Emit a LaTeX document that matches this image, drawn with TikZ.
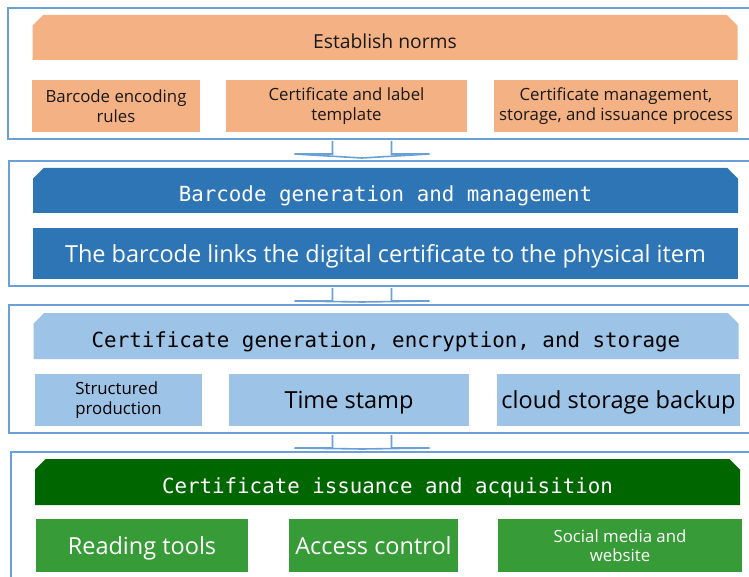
\documentclass[tikz,border=0pt]{standalone}
\usepackage{fontspec}
\setmainfont{Open Sans}
\setmonofont{DejaVu Sans Mono}
\usepackage{xcolor}
\usepackage{tikz}
\usetikzlibrary{positioning,shapes.misc,calc}

\definecolor{frameblue}{HTML}{6A9FD8}
\definecolor{normorange}{HTML}{F4B183}
\definecolor{codeblue}{HTML}{2E75B6}
\definecolor{certblue}{HTML}{9DC3E6}
\definecolor{issuegreen}{HTML}{006600}
\definecolor{toolgreen}{HTML}{379B37}

\begin{document}
\begin{tikzpicture}[
  x=1pt, y=-1pt,
  panel/.style={draw=frameblue, line width=2pt, inner sep=0pt, minimum width=752pt},
  head/.style={chamfered rectangle, chamfered rectangle corners={north west,north east},
               chamfered rectangle xsep=7pt, inner sep=0pt, minimum height=45pt,
               minimum width=705pt, text height=24pt, text depth=1pt},
  part/.style={inner sep=0pt, minimum height=52pt, align=center},
  flow/.style={draw=frameblue, line width=1.6pt, fill=white, line join=miter},
  mono/.style={font=\ttfamily\fontsize{20.8}{24}\selectfont},
  small/.style={font=\fontsize{16.8}{20}\selectfont},
  tiny/.style={font=\fontsize{16.8}{19.5}\selectfont},
  big/.style={font=\fontsize{23.5}{27}\selectfont, text height=19pt, text depth=1.5pt}
]
\clip (0,0) rectangle (749,577);

\node[panel, minimum height=131pt] (p1) at (384,73.5) {};
\node[panel, minimum height=125pt] (p2) at (384.5,223.5) {};
\node[panel, minimum height=128pt] (p3) at (384.5,369) {};
\node[panel, minimum height=148pt, minimum width=749pt] (p4) at (385.5,526) {};

\node[head, fill=normorange, text=black!90, font=\fontsize{19.3}{23}\selectfont] (norms) at (385,37.5) {Establish norms};
\node[part, small, fill=normorange, text=black!90, minimum width=168pt] (rules) at (116,106) {Barcode encoding\\rules};
\node[part, small, fill=normorange, text=black!90, minimum width=241pt] (tmpl) at (346.5,106) {Certificate and label\\template};
\node[part, small, fill=normorange, text=black!90, minimum width=244pt] (process) at (616,106) {Certificate management,\\storage, and issuance process};

\node[head, mono, fill=codeblue, text=white] (barcode) at (385.5,190.5) {Barcode generation and management};
\node[part, big, fill=codeblue, text=white, minimum width=705pt, minimum height=51pt] (link) at (385.5,253.5) {The barcode links the digital certificate to the physical item};

\node[head, mono, fill=certblue, text=black, minimum height=46pt] (gen) at (386,336) {Certificate generation, encryption, and storage};
\node[part, tiny, fill=certblue, text=black, minimum width=167pt, align=left] (struct) at (118.5,400) {Structured\\production};
\node[part, big, fill=certblue, text=black, minimum width=240pt] (stamp) at (349,400) {Time stamp};
\node[part, big, fill=certblue, text=black, minimum width=243pt] (cloud) at (618.5,400) {cloud storage backup};

\node[head, mono, fill=issuegreen, text=white, minimum height=46pt] (issue) at (387.5,482) {Certificate issuance and acquisition};
\node[part, big, fill=toolgreen, text=white, minimum width=212pt, minimum height=53pt] (read) at (142,545.5) {Reading tools};
\node[part, big, fill=toolgreen, text=white, minimum width=169pt, minimum height=53pt] (access) at (373.5,545.5) {Access control};
\node[part, tiny, fill=toolgreen, text=white, minimum width=244pt, minimum height=53pt] (social) at (620,545.5) {Social media and\\website};

\coordinate (axis) at (362,0);
\foreach \a/\b in {p1/p2, p2/p3, p3/p4}
  \draw[flow] ($(\a.south -| axis)+(-29.5,1)$) -- ++(0,13) -- ++(-38,0)
    -- ($(\b.north -| axis)+(0,-2)$) -- ($(\a.south -| axis)+(67.5,14)$)
    -- ++(-38,0) -- ++(0,-13);

\end{tikzpicture}
\end{document}
